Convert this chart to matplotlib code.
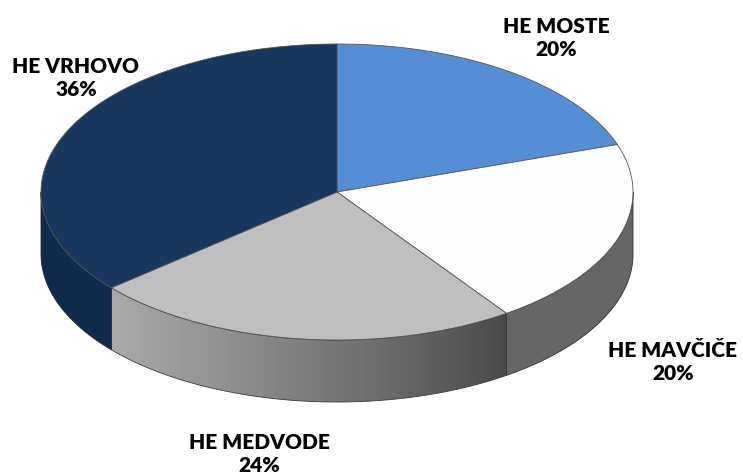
import numpy as np
import matplotlib
matplotlib.use("Agg")
import matplotlib.pyplot as plt
from matplotlib.colors import LinearSegmentedColormap
from matplotlib.patches import Polygon

names = ["HE MOSTE", "HE MAVČIČE", "HE MEDVODE", "HE VRHOVO"]
pct_labels = ["20%", "20%", "24%", "36%"]
shares = [19.8, 20.5, 23.5, 36.2]  # slice sizes, labels are rounded
colors = ["#558ED5", "#FDFDFD", "#BFBFBF", "#17375E"]
side_colors = ["#3F6CA3", "#666666", None, "#0F2A4D"]

CX, CY = 337, 192  # pixel centre of the top face
RX, RY = 296, 148
DEPTH = 62


def rim(a0, a1, n=200):
    # angles run clockwise from 12 o'clock, in degrees
    t = np.radians(np.linspace(a0, a1, n))
    return CX + RX*np.sin(t), CY - RY*np.cos(t)


fig = plt.figure(figsize=(7.43, 4.75), dpi=100)
ax = fig.add_axes([0, 0, 1, 1])
ax.set_xlim(0, 743)
ax.set_ylim(475, 0)
ax.axis("off")

edges = np.concatenate([[0], np.cumsum(shares)])*3.6
grey_map = LinearSegmentedColormap.from_list("side", ["#AAAAAA", "#8C8C8C", "#6E6E6E", "#4A4A4A"])

# front walls first, only the part of each slice facing the viewer
for i in range(len(shares)):
    a0, a1 = max(edges[i], 90), min(edges[i+1], 270)
    if a0 >= a1:
        continue
    x, y = rim(a0, a1)
    pts = np.column_stack([np.r_[x, x[::-1]], np.r_[y, y[::-1] + DEPTH]])
    if side_colors[i] is None:
        wall = Polygon(pts, facecolor="none", edgecolor="none")
        ax.add_patch(wall)
        img = ax.imshow(np.linspace(0, 1, 256)[None, :], cmap=grey_map, aspect="auto",
                        extent=[x.min(), x.max(), y.max() + DEPTH, y.min()], zorder=1)
        img.set_clip_path(wall)
        ax.add_patch(Polygon(pts, facecolor="none", edgecolor="#3A3A3A", linewidth=0.6, zorder=1.5))
    else:
        ax.add_patch(Polygon(pts, facecolor=side_colors[i], edgecolor="#2A2A2A", linewidth=0.6, zorder=1.5))

# top faces
for i in range(len(shares)):
    x, y = rim(edges[i], edges[i+1])
    pts = np.column_stack([np.r_[CX, x], np.r_[CY, y]])
    ax.add_patch(Polygon(pts, facecolor=colors[i], edgecolor="#555555", linewidth=0.6, zorder=2))

ax.set_xlim(0, 743)
ax.set_ylim(475, 0)

label_pos = [(556, 38), (673, 362), (259, 454), (76, 78)]
for name, pct, (lx, ly) in zip(names, pct_labels, label_pos):
    ax.text(lx, ly, f"{name}\n{pct}", ha="center", va="center", fontsize=15,
            fontweight=800, family="Lato", color="black", linespacing=1.3, zorder=3)

fig.savefig("out.png", dpi=100)
